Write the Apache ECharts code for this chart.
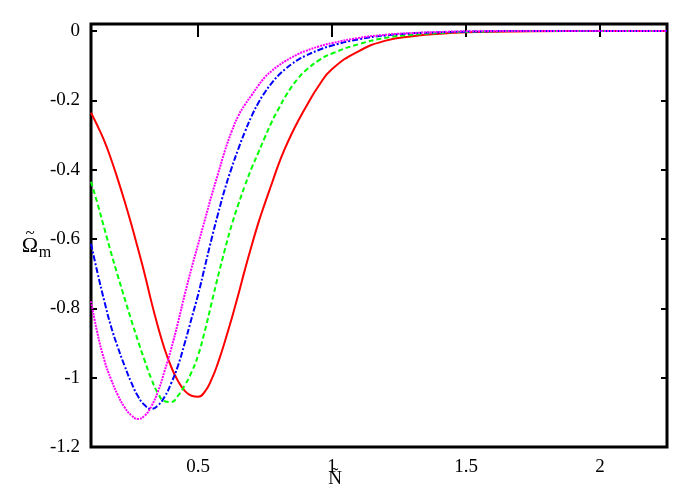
<!DOCTYPE html>
<html>
<head>
<meta charset="utf-8">
<script src="https://cdn.jsdelivr.net/npm/echarts@6/dist/echarts.min.js"></script>
<style>
html, body { margin: 0; padding: 0; background: #fff; }
#main { width: 698px; height: 488px; }
</style>
</head>
<body>
<div id="main"></div>
<script>
var nVals = [0.1, 0.125, 0.15, 0.175, 0.2, 0.225, 0.25, 0.275, 0.3, 0.325, 0.35, 0.375, 0.4, 0.425, 0.45, 0.475,
	0.5, 0.525, 0.55, 0.575, 0.6, 0.625, 0.65, 0.675, 0.7, 0.725, 0.75, 0.775, 0.8, 0.825, 0.85, 0.875, 0.9,
	0.95, 1.0, 1.1, 1.2, 1.3, 1.4, 1.5, 1.75, 2.0, 2.25];

var redVals = [-0.236, -0.275, -0.318, -0.37, -0.428, -0.49, -0.556, -0.627, -0.70, -0.78, -0.853, -0.918, -0.97, -1.01, -1.038, -1.052,
	-1.055, -1.04, -1.005, -0.955, -0.895, -0.83, -0.76, -0.687, -0.618, -0.553, -0.495, -0.44, -0.385, -0.337, -0.295, -0.257, -0.222,
	-0.158, -0.11, -0.058, -0.028, -0.015, -0.008, -0.004, -0.001, 0, 0];
var greenVals = [-0.435, -0.50, -0.57, -0.64, -0.706, -0.77, -0.833, -0.893, -0.95, -1.003, -1.045, -1.068, -1.07, -1.052, -1.022, -0.985,
	-0.935, -0.865, -0.785, -0.705, -0.63, -0.56, -0.50, -0.445, -0.395, -0.35, -0.305, -0.262, -0.225, -0.19, -0.16, -0.135, -0.115,
	-0.085, -0.065, -0.038, -0.02, -0.011, -0.006, -0.003, 0, 0, 0];
var blueVals = [-0.614, -0.70, -0.78, -0.853, -0.912, -0.965, -1.013, -1.053, -1.079, -1.09, -1.08, -1.055, -1.015, -0.965, -0.90, -0.83,
	-0.76, -0.68, -0.60, -0.525, -0.455, -0.395, -0.34, -0.29, -0.245, -0.207, -0.176, -0.15, -0.128, -0.11, -0.095, -0.082, -0.072,
	-0.055, -0.042, -0.024, -0.013, -0.007, -0.004, -0.002, 0, 0, 0];
var magentaVals = [-0.78, -0.875, -0.95, -1.005, -1.05, -1.085, -1.108, -1.119, -1.11, -1.083, -1.04, -0.98, -0.915, -0.84, -0.76, -0.685,
	-0.615, -0.545, -0.475, -0.41, -0.345, -0.29, -0.245, -0.212, -0.185, -0.157, -0.133, -0.115, -0.1, -0.087, -0.076, -0.066, -0.058,
	-0.045, -0.035, -0.02, -0.011, -0.006, -0.003, -0.001, 0, 0, 0];

var xTicks = [0.5, 1, 1.5, 2];
var yTicks = [-1.2, -1, -0.8, -0.6, -0.4, -0.2, 0];

var chart = echarts.init(document.getElementById('main'));

function pairs(ys) {
	return nVals.map(function (x, i) { return [x, ys[i]]; });
}

var font = '"Liberation Serif", "DejaVu Serif", serif';

function mkX(pos, labels) {
	return {
		type: 'value', position: pos, min: 0.1, max: 2.25,
		axisLine: { show: false },
		splitLine: { show: false },
		axisTick: { inside: true, length: 6, lineStyle: { color: '#000', width: 2 }, customValues: xTicks },
		axisLabel: { show: labels, customValues: xTicks, color: '#000', fontSize: 19, fontFamily: font, margin: 11 }
	};
}
function mkY(pos, labels) {
	return {
		type: 'value', position: pos, min: -1.2, max: 0.02,
		axisLine: { show: false },
		splitLine: { show: false },
		axisTick: { inside: true, length: 6, lineStyle: { color: '#000', width: 2 }, customValues: yTicks },
		axisLabel: { show: labels, customValues: yTicks, color: '#000', fontSize: 19, fontFamily: font, margin: 11 }
	};
}

function line(name, ys, color, dash) {
	return {
		name: name, type: 'line', data: pairs(ys),
		smooth: 0.5, showSymbol: false, symbol: 'none',
		lineStyle: { color: color, width: 2, type: dash },
		z: 3
	};
}

function txt(x, y, s, size) {
	return { type: 'text', x: x, y: y, style: { text: s, fontSize: size, fontFamily: font, fill: '#000', align: 'center', verticalAlign: 'middle' } };
}

option = {
	animation: false,
	backgroundColor: '#fff',
	grid: { left: 91, right: 31, top: 24, bottom: 41, show: true, borderColor: '#000', borderWidth: 3, backgroundColor: 'transparent' },
	xAxis: [mkX('bottom', true), mkX('top', false)],
	yAxis: [mkY('left', true), mkY('right', false)],
	graphic: [
		txt(30, 246, 'Ω', 22),
		txt(30, 234, '~', 17),
		txt(45, 253, 'm', 16),
		txt(335, 479, 'Ñ', 19)
	],
	series: [
		line('red', redVals, '#ff0000', 'solid'),
		line('green', greenVals, '#00ff00', [5, 3]),
		line('blue', blueVals, '#0000ff', [6, 2, 2, 2]),
		line('magenta', magentaVals, '#ff00ff', [2, 1])
	]
};
chart.setOption(option);
</script>
</body>
</html>
